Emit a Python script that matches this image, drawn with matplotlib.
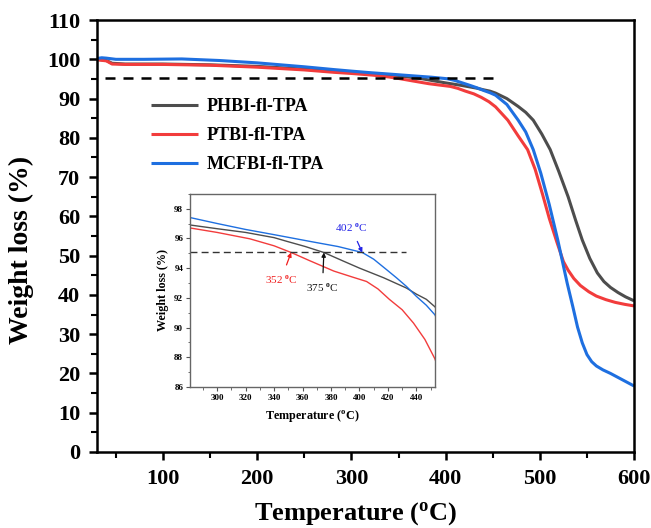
"""TGA curves of the three fl-TPA polymers with a zoomed inset around T5%."""

import matplotlib
matplotlib.use("Agg")
import matplotlib.pyplot as plt
from matplotlib.ticker import MultipleLocator

GRAY = "#4d4d4d"
RED = "#f23c3c"
BLUE = "#1e6fe0"

# PHBI-fl-TPA
phbi_t = [30, 40, 46, 60, 100, 150, 200, 250, 281, 300, 320, 340, 349, 362, 375, 388,
          400, 417, 433, 440, 447, 453, 465, 477, 485, 493, 502, 511, 520, 530, 538,
          545, 553, 561, 568, 575, 583, 591, 600]
phbi_w = [100.0, 99.7, 99.0, 98.8, 98.8, 98.6, 98.2, 97.5, 96.9, 96.65, 96.4, 96.05,
          95.8, 95.45, 95.05, 94.5, 94.0, 93.35, 92.66, 92.25, 91.9, 91.4, 90.0, 88.0,
          86.5, 84.5, 81.0, 77.0, 71.5, 65.0, 59.0, 54.0, 49.3, 45.6, 43.4, 41.9, 40.6,
          39.5, 38.5]

# PTBI-fl-TPA
ptbi_t = [30, 40, 46, 60, 100, 150, 200, 250, 281, 300, 323, 340, 352, 365, 382, 395,
          405, 413, 421, 430, 438, 446, 453, 466, 477, 487, 495, 503, 510, 518, 525,
          530, 536, 543, 552, 560, 570, 580, 590, 600]
ptbi_w = [99.9, 99.6, 98.8, 98.7, 98.7, 98.5, 98.0, 97.3, 96.7, 96.4, 95.97, 95.5,
          95.05, 94.5, 93.8, 93.4, 93.1, 92.6, 91.9, 91.2, 90.3, 89.2, 87.9, 84.5, 80.5,
          77.0, 72.0, 65.5, 59.5, 53.5, 48.5, 46.3, 44.2, 42.4, 40.8, 39.7, 38.8, 38.1,
          37.6, 37.2]

# MCFBI-fl-TPA
mcfbi_t = [30, 35, 40, 50, 80, 120, 160, 200, 250, 281, 300, 320, 340, 365, 385, 402,
           410, 419, 426, 433, 440, 447, 453, 465, 477, 485, 493, 501, 510, 519, 529,
           535, 540, 545, 550, 555, 560, 567, 575, 600]
mcfbi_w = [100.2, 100.4, 100.3, 100.0, 100.0, 100.1, 99.7, 99.1, 98.1, 97.4, 97.0, 96.6,
           96.25, 95.8, 95.45, 95.05, 94.6, 93.9, 93.35, 92.77, 92.1, 91.5, 90.86, 88.5,
           84.5, 81.5, 77.0, 71.0, 63.0, 54.0, 43.0, 37.0, 31.8, 27.8, 24.8, 23.0, 21.9,
           20.9, 20.0, 16.8]

series = [
    ("PHBI-fl-TPA", phbi_t, phbi_w, GRAY),
    ("PTBI-fl-TPA", ptbi_t, ptbi_w, RED),
    ("MCFBI-fl-TPA", mcfbi_t, mcfbi_w, BLUE),
]

T5_LEVEL_MAIN = 95.2
T5_LEVEL_INSET = 95.05

# T5% points: (label, x, y, text x, text y, color)
t5_notes = [
    ("402 $^{\\mathrm{o}}$C", 402, 95.05, 394, 96.75, "#2222e6"),
    ("352 $^{\\mathrm{o}}$C", 352, 95.05, 345, 93.25, "#f01c1c"),
    ("375 $^{\\mathrm{o}}$C", 375, 95.05, 374, 92.7, "#111111"),
]

plt.rcParams.update({
    "font.family": "Liberation Serif",
    "font.weight": "bold",
    "axes.labelweight": "bold",
    "mathtext.fontset": "custom",
    "mathtext.rm": "Liberation Serif",
    "mathtext.bf": "Liberation Serif:bold",
})

fig = plt.figure(figsize=(6.51, 5.28), dpi=100)
ax = fig.add_axes([0.149, 0.144, 0.825, 0.818])

for name, t, w, c in series:
    ax.plot(t, w, color=c, lw=2.2, label=name, solid_capstyle="butt")
ax.plot([38, 456], [T5_LEVEL_MAIN] * 2, color="black", lw=1.8, dashes=(4, 3.2))

ax.set_xlim(30, 600)
ax.set_ylim(0, 110)
ax.xaxis.set_major_locator(MultipleLocator(100))
ax.xaxis.set_minor_locator(MultipleLocator(50))
ax.yaxis.set_major_locator(MultipleLocator(10))
ax.yaxis.set_minor_locator(MultipleLocator(5))
ax.tick_params(which="major", direction="out", length=6, width=1.8, labelsize=16, pad=6)
ax.tick_params(which="minor", direction="out", length=4, width=1.5)
for s in ax.spines.values():
    s.set_linewidth(1.8)
ax.set_xlabel("Temperature ($\\mathbf{^{o}}$C)", fontsize=19)
ax.set_ylabel("Weight loss (%)", fontsize=20)
ax.xaxis.set_label_coords(0.482, -0.112)
ax.yaxis.set_label_coords(-0.117, 0.468)
ax.legend(loc="upper left", bbox_to_anchor=(0.07, 0.857), frameon=False, fontsize=13,
          handlelength=2.6, handletextpad=0.5, labelspacing=0.66)

ins = fig.add_axes([0.292, 0.267, 0.376, 0.366])
for name, t, w, c in series:
    ins.plot(t, w, color=c, lw=1.0)
ins.plot([281, 433], [T5_LEVEL_INSET] * 2, color="#333333", lw=1.0, dashes=(5, 3))
for text, x, y, tx, ty, c in t5_notes:
    ins.annotate(text, xy=(x, y), xytext=(tx, ty), color=c, fontsize=8, fontweight="normal",
                 ha="center", va="center",
                 arrowprops=dict(arrowstyle="-|>", color=c, lw=0.9, mutation_scale=6,
                                 shrinkA=4, shrinkB=0))
ins.set_xlim(281, 453)
ins.set_ylim(86, 99)
ins.xaxis.set_major_locator(MultipleLocator(20))
ins.xaxis.set_minor_locator(MultipleLocator(10))
ins.yaxis.set_major_locator(MultipleLocator(2))
ins.yaxis.set_minor_locator(MultipleLocator(1))
ins.tick_params(which="major", direction="out", length=3, width=0.8, labelsize=6.5, pad=2,
                color="#555555")
ins.tick_params(which="minor", direction="out", length=1.8, width=0.6, color="#555555")
for s in ins.spines.values():
    s.set_linewidth(1.0)
    s.set_color("#666666")
ins.set_xlabel("Temperature ($\\mathbf{^{o}}$C)", fontsize=8.7, labelpad=4)
ins.set_ylabel("Weight loss (%)", fontsize=8.7, labelpad=4)

fig.savefig("out.png", dpi=100)
